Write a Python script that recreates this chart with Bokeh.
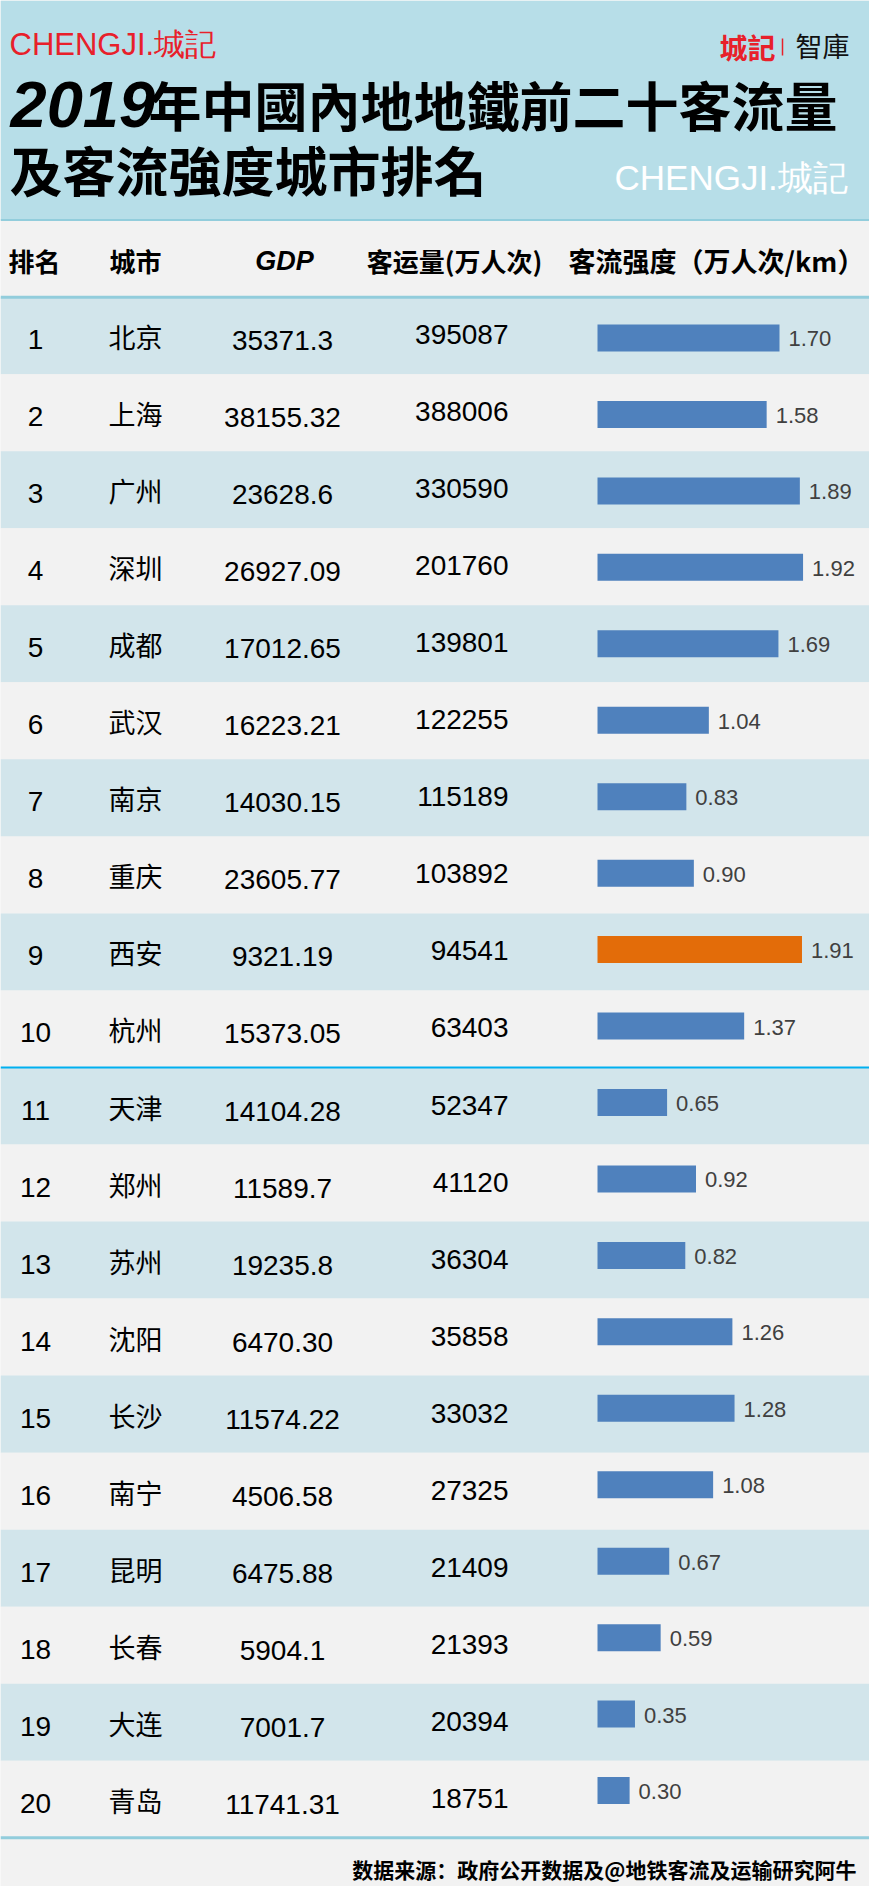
from bokeh.plotting import figure
from bokeh.models import ColumnDataSource, Range1d, Label
from bokeh.core.properties import value
from bokeh.embed import file_html
from bokeh.resources import INLINE

# ---------------- data ----------------
ranks = list(range(1, 21))
cities = ["北京", "上海", "广州", "深圳", "成都", "武汉", "南京", "重庆", "西安", "杭州",
          "天津", "郑州", "苏州", "沈阳", "长沙", "南宁", "昆明", "长春", "大连", "青岛"]
gdp = ["35371.3", "38155.32", "23628.6", "26927.09", "17012.65", "16223.21", "14030.15",
       "23605.77", "9321.19", "15373.05", "14104.28", "11589.7", "19235.8", "6470.30",
       "11574.22", "4506.58", "6475.88", "5904.1", "7001.7", "11741.31"]
volume = [395087, 388006, 330590, 201760, 139801, 122255, 115189, 103892, 94541, 63403,
          52347, 41120, 36304, 35858, 33032, 27325, 21409, 21393, 20394, 18751]
intensity = [1.70, 1.58, 1.89, 1.92, 1.69, 1.04, 0.83, 0.90, 1.91, 1.37,
             0.65, 0.92, 0.82, 1.26, 1.28, 1.08, 0.67, 0.59, 0.35, 0.30]
highlight_city = "西安"

col_headers = ["排名", "城市", "GDP", "客运量(万人次)", "客流强度（万人次/km）"]
title_year = "2019"
title_line1 = "年中國內地地鐵前二十客流量"
title_line2 = "及客流強度城市排名"
logo_text = "CHENGJI.城記"
footer_text = "数据来源：政府公开数据及@地铁客流及运输研究阿牛"

# ---------------- styles ----------------
HEADER_BG = "#b7dee8"
ODD_BG = "#d2e5eb"
PAGE_BG = "#f2f2f2"
LINE_LIGHT = "#92cddc"
LINE_BRIGHT = "#00b0f0"
BAR_BLUE = "#4f81bd"
BAR_ORANGE = "#e36c09"
RED = "#e8202a"
CJK = "Noto Sans CJK SC"
CJK_TC = "Noto Sans CJK TC"
LAT = "Liberation Sans"

W, H = 869, 1886

p = figure(width=W, height=H, x_range=Range1d(0, W), y_range=Range1d(H, 0),
           output_backend="svg", toolbar_location=None, min_border=0,
           x_axis_location=None, y_axis_location=None)
p.grid.visible = False
p.outline_line_color = None
p.background_fill_color = PAGE_BG
p.border_fill_color = PAGE_BG

# row index range and bar ranges
p.extra_y_ranges = {"rows": Range1d(start=21.1324, end=-3.3516),
                    "bars": Range1d(start=21.2551, end=-3.4146)}
p.extra_x_ranges = {"val": Range1d(start=-5.5763, end=2.5406)}

src = ColumnDataSource(dict(
    rank=ranks,
    rank_txt=[str(r) for r in ranks],
    city=cities,
    gdp=gdp,
    vol=[str(v) for v in volume],
    val=intensity,
    val_txt=["%.2f" % v for v in intensity],
    bg=[ODD_BG if r % 2 == 1 else PAGE_BG for r in ranks],
    bar_color=[BAR_ORANGE if c == highlight_city else BAR_BLUE for c in cities],
    zero=[0] * len(ranks),
))

# header background
p.quad(left=[0], right=[W], top=[0], bottom=[219], fill_color=HEADER_BG, line_color=None)

# row backgrounds
p.hbar(y="rank", left=0, right=W, height=1.0, fill_color="bg", line_color=None,
       source=src, y_range_name="rows")

# lines
p.segment(x0=[0], x1=[W], y0=[219.5], y1=[219.5], line_color=LINE_LIGHT, line_width=2)
p.segment(x0=[0, 0], x1=[W, W], y0=[0.5, 20.5], y1=[0.5, 20.5],
          line_color=LINE_LIGHT, line_width=3, y_range_name="rows")
p.segment(x0=[0], x1=[W], y0=[10.5], y1=[10.5], line_color=LINE_BRIGHT, line_width=2,
          y_range_name="rows")

# bars
p.hbar(y="rank", left="zero", right="val", height=0.353, fill_color="bar_color",
       line_color=None, source=src, x_range_name="val", y_range_name="bars")
p.text(x="val", y="rank", text="val_txt", source=src, x_range_name="val", y_range_name="bars",
       x_offset=9, y_offset=1, text_font=value(LAT), text_font_size="22px",
       text_color="#404040", text_align="left", text_baseline="middle")

# row texts
p.text(x=35, y="rank", text="rank_txt", source=src, y_range_name="rows", y_offset=4,
       text_font=value(LAT), text_font_size="28px", text_color="#000000",
       text_align="center", text_baseline="middle")
p.text(x=135, y="rank", text="city", source=src, y_range_name="rows", y_offset=1,
       text_font=value(CJK), text_font_size="27px", text_color="#000000",
       text_align="center", text_baseline="middle")
p.text(x=282, y="rank", text="gdp", source=src, y_range_name="rows", y_offset=5,
       text_font=value(LAT), text_font_size="28px", text_color="#000000",
       text_align="center", text_baseline="middle")
p.text(x=508, y="rank", text="vol", source=src, y_range_name="rows", y_offset=-1,
       text_font=value(LAT), text_font_size="28px", text_color="#000000",
       text_align="right", text_baseline="middle")

# column headers
hx = [34, 135, 284, 454, 716]
for x, t in zip(hx, col_headers):
    if t == "GDP":
        p.add_layout(Label(x=x, y=260, text=t, text_font=LAT, text_font_size="27px",
                           text_font_style="bold italic", text_color="#000000",
                           text_align="center", text_baseline="middle"))
    else:
        p.add_layout(Label(x=x, y=260, text=t, text_font=CJK,
                           text_font_size="27px" if "强度" in t else "26px",
                           text_font_style="bold", text_color="#000000",
                           text_align="center", text_baseline="middle"))

# title
p.add_layout(Label(x=10, y=104, text=title_year, text_font=LAT, text_font_size="65px",
                   text_font_style="bold italic", text_color="#000000",
                   text_align="left", text_baseline="middle"))
p.add_layout(Label(x=148, y=103, text=title_line1, text_font=CJK_TC, text_font_size="53px",
                   text_font_style="bold", text_color="#000000",
                   text_align="left", text_baseline="middle"))
p.add_layout(Label(x=9, y=168, text=title_line2, text_font=CJK_TC, text_font_size="53px",
                   text_font_style="bold", text_color="#000000",
                   text_align="left", text_baseline="middle"))

# logos
p.add_layout(Label(x=9, y=44, text=logo_text, text_font=LAT, text_font_size="31px",
                   text_color=RED, text_align="left", text_baseline="middle"))
p.add_layout(Label(x=614, y=177, text=logo_text, text_font=LAT, text_font_size="35px",
                   text_color="#ffffff", text_align="left", text_baseline="middle"))
p.add_layout(Label(x=747, y=46, text="城記", text_font=CJK_TC, text_font_size="28px",
                   text_font_style="bold", text_color=RED, text_align="center",
                   text_baseline="middle"))
p.segment(x0=[782], x1=[782], y0=[38], y1=[55], line_color=RED, line_width=1.5)
p.add_layout(Label(x=822, y=45, text="智庫", text_font=CJK_TC, text_font_size="27px",
                   text_color="#111111", text_align="center", text_baseline="middle"))

# footer
p.add_layout(Label(x=856, y=1868, text=footer_text, text_font=CJK, text_font_size="21px",
                   text_font_style="bold", text_color="#000000", text_align="right",
                   text_baseline="middle"))

open("out.html", "w").write(file_html(p, INLINE))
